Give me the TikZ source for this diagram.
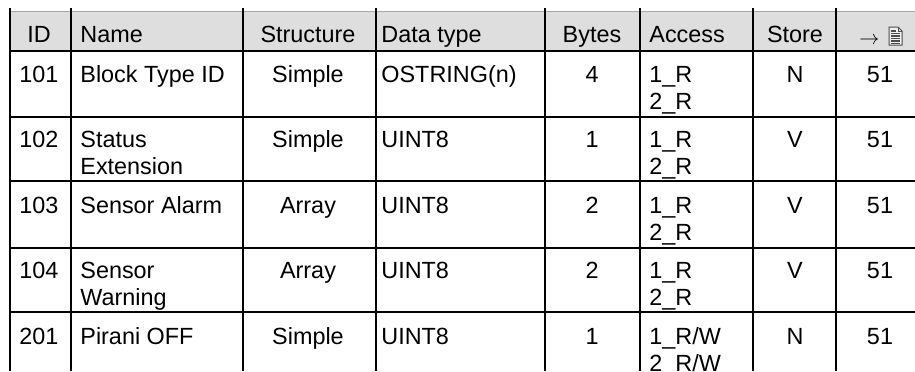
\documentclass[tikz,border=0pt]{standalone}
\usepackage{fontspec}
\setmainfont{Liberation Sans}
\usepackage{tikz}
\usetikzlibrary{positioning}

\begin{document}
\begin{tikzpicture}[x=0.5pt,y=-0.5pt,
        font=\fontsize{11.7}{13.75}\selectfont,
        cell/.style={inner sep=0pt,anchor=base west,align=left},
        twocell/.style={cell,yshift=-13.75pt},
        mid/.style={inner sep=0pt,anchor=base},
        rule/.style={line width=1pt},
        headfill/.style={fill=gray!26}]
            \useasboundingbox (0,0) rectangle (915,371);
            \clip (0,0) rectangle (915,371);

            % header band
            \fill[headfill] (10,11) rectangle (915,51);
            \draw[gray!70,line width=0.4pt] (10,11) -- (915,11);

            % table rules
            \draw[rule] (10,8) -- (10,371);
            \draw[rule] (71,8) -- (71,371);
            \draw[rule] (243,8) -- (243,371);
            \draw[rule] (376,8) -- (376,371);
            \draw[rule] (545,8) -- (545,371);
            \draw[rule] (640,8) -- (640,371);
            \draw[rule] (753,8) -- (753,371);
            \draw[rule] (836,8) -- (836,371);
            \draw[rule] (10,51) -- (915,51);
            \draw[rule] (10,117) -- (915,117);
            \draw[rule] (10,181) -- (915,181);
            \draw[rule] (10,248) -- (915,248);
            \draw[rule] (10,312) -- (915,312);

            % header
            \node[mid] (h_id)     at (39,42)  {ID};
            \node[cell] (h_name)  at (80,42)  {Name};
            \node[mid] (h_struct) at (308,42) {Structure};
            \node[cell] (h_type)  at (381,42) {Data type};
            \node[mid] (h_bytes)  at (592,42) {Bytes};
            \node[cell] (h_acc)   at (649,42) {Access};
            \node[mid] (h_store)  at (795,42) {Store};
            \node[cell,font=\fontsize{10}{12}\selectfont] (h_ref) at (859,44) {$\rightarrow$};

            % page symbol
            \draw[gray!60!black,fill=gray!12,line width=0.5pt]
                (889,27) -- (898,27) -- (902,31) -- (902,45) -- (889,45) -- cycle;
            \draw[gray!60!black,line width=0.5pt] (898,27) -- (898,31) -- (902,31);
            \draw[gray!60!black,line width=0.6pt]
                (891,31) -- (896,31) (891,33.5) -- (900,33.5) (891,36) -- (900,36)
                (891,38.5) -- (900,38.5) (891,41) -- (900,41) (891,43.3) -- (900,43.3);

            % row 101
            \node[mid] (id_1)     at (39,82)  {101};
            \node[cell] (name_1)  at (80,82)  {Block Type ID};
            \node[mid] (struct_1) at (308,82) {Simple};
            \node[cell] (type_1)  at (381,82) {OSTRING(n)};
            \node[mid] (bytes_1)  at (592,82) {4};
            \node[twocell] (acc_1) at (649,82) {1\_R\\2\_R};
            \node[mid] (store_1)  at (795,82) {N};
            \node[mid] (ref_1)    at (880,82) {51};

            % row 102
            \node[mid] (id_2)     at (39,147)  {102};
            \node[twocell] (name_2) at (80,147) {Status\\Extension};
            \node[mid] (struct_2) at (308,147) {Simple};
            \node[cell] (type_2)  at (381,147) {UINT8};
            \node[mid] (bytes_2)  at (592,147) {1};
            \node[twocell] (acc_2) at (649,147) {1\_R\\2\_R};
            \node[mid] (store_2)  at (795,147) {V};
            \node[mid] (ref_2)    at (880,147) {51};

            % row 103
            \node[mid] (id_3)     at (39,213)  {103};
            \node[cell] (name_3)  at (80,213)  {Sensor Alarm};
            \node[mid] (struct_3) at (308,213) {Array};
            \node[cell] (type_3)  at (381,213) {UINT8};
            \node[mid] (bytes_3)  at (592,213) {2};
            \node[twocell] (acc_3) at (649,213) {1\_R\\2\_R};
            \node[mid] (store_3)  at (795,213) {V};
            \node[mid] (ref_3)    at (880,213) {51};

            % row 104
            \node[mid] (id_4)     at (39,278)  {104};
            \node[twocell] (name_4) at (80,278) {Sensor\\Warning};
            \node[mid] (struct_4) at (308,278) {Array};
            \node[cell] (type_4)  at (381,278) {UINT8};
            \node[mid] (bytes_4)  at (592,278) {2};
            \node[twocell] (acc_4) at (649,278) {1\_R\\2\_R};
            \node[mid] (store_4)  at (795,278) {V};
            \node[mid] (ref_4)    at (880,278) {51};

            % row 201
            \node[mid] (id_5)     at (39,344)  {201};
            \node[cell] (name_5)  at (80,344)  {Pirani OFF};
            \node[mid] (struct_5) at (308,344) {Simple};
            \node[cell] (type_5)  at (381,344) {UINT8};
            \node[mid] (bytes_5)  at (592,344) {1};
            \node[twocell] (acc_5) at (649,344) {1\_R/W\\2\_R/W};
            \node[mid] (store_5)  at (795,344) {N};
            \node[mid] (ref_5)    at (880,344) {51};
        \end{tikzpicture}
\end{document}
